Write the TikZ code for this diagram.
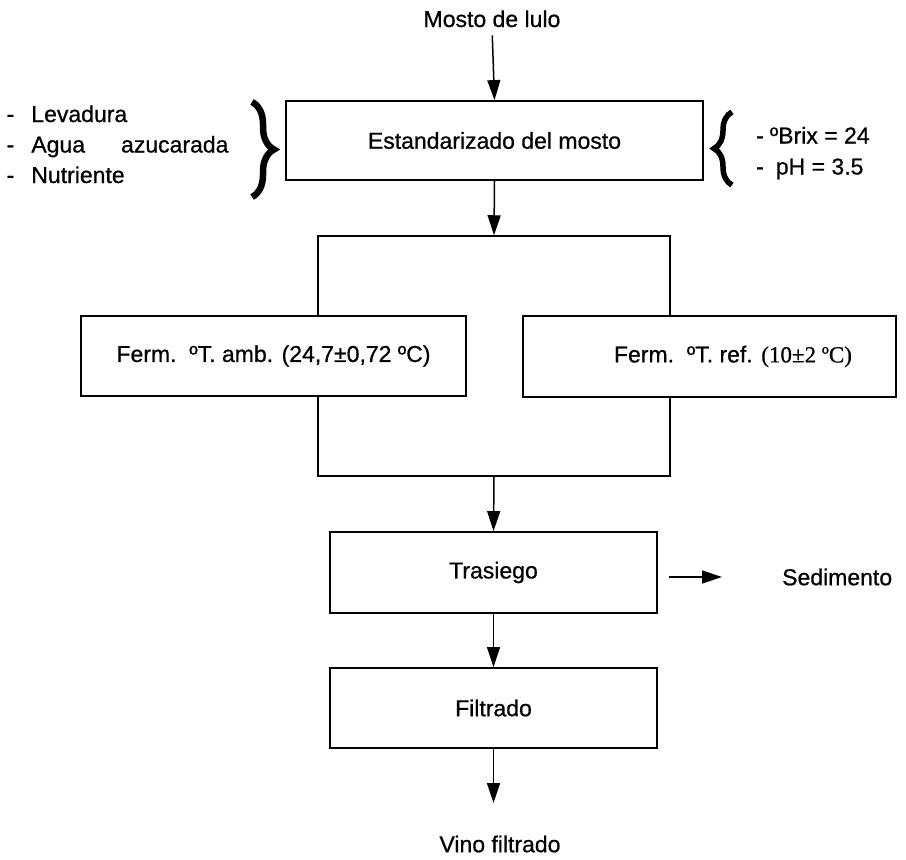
\documentclass[tikz,border=0pt]{standalone}
\usepackage{fontspec}
\setmainfont{Liberation Sans}[FakeBold=0.7]
\newfontfamily\tms{Liberation Serif}[FakeBold=0.7]
\usetikzlibrary{arrows.meta,decorations.pathreplacing}
\begin{document}
\begin{tikzpicture}[x=1pt,y=-1pt,
  txt/.style={font=\fontsize{23}{28}\selectfont, inner sep=0pt},
  box/.style={draw, line width=1.8pt, fill=white, inner sep=0pt, font=\fontsize{23}{28}\selectfont},
  arr/.style={line width=1.5pt, -{Triangle[length=20pt,width=13pt]}},
  bracestyle/.style={decorate, line width=6.5pt}
]
\useasboundingbox (0,0) rectangle (906,860);

% top label
\node[txt, anchor=base] (mosto) at (492,27) {Mosto de lulo};

% standardization box
\node[box, minimum width=417pt, minimum height=79pt] (est) at (494.5,140.5) {Estandarizado del mosto};

% left inputs
\node[txt, anchor=base west] (l1) at (6.5,122) {-\hspace{17pt}Levadura};
\node[txt, anchor=base west] (l2) at (6.5,152.5) {-\hspace{17pt}Agua\hspace{36pt}azucarada};
\node[txt, anchor=base west] (l3) at (6.5,183) {-\hspace{17pt}Nutriente};
\draw[bracestyle, decoration={brace, amplitude=22pt}] (252,102) -- (252,197);

% right parameters
\draw[bracestyle, decoration={brace, amplitude=18pt}, line width=5.5pt] (732,185) -- (732,112);
\node[txt, anchor=base west] (r1) at (756,143.5) {-\hspace{6pt}ºBrix = 24};
\node[txt, anchor=base west] (r2) at (756,174.5) {-\hspace{12pt}pH = 3.5};

% split/merge frame
\node[draw, line width=1.5pt, minimum width=352pt, minimum height=240pt, inner sep=0pt] (frame) at (494,356) {};

% fermentation boxes
\node[box, minimum width=385pt, minimum height=80pt] (fa) at (273.5,356) {Ferm.\ \ ºT. amb. (24,7±0,72 ºC)};
\node[box, minimum width=373pt, minimum height=81pt] (fr) at (709.5,356.5) {\hspace*{47pt}Ferm.\ \ ºT. ref. {\tms (10±2 ºC)}};

% lower boxes
\node[box, minimum width=327pt, minimum height=81pt] (tras) at (493.5,572.5) {Trasiego};
\node[box, minimum width=327pt, minimum height=80pt] (filt) at (493.5,708) {Filtrado};

\node[txt, anchor=west] (sed) at (782,577) {Sedimento};
\coordinate (endv) at (493.5,803);
\node[txt] (vino) at (500,844) {Vino filtrado};

% connectors
\draw[arr, shorten <=8pt] (mosto.south) -- (est.north);
\draw[arr] (est.south) -- (frame.north);
\draw[arr] (frame.south) -- (tras.north);
\draw[arr] (tras.south) -- (filt.north);
\draw[arr] (filt.south) -- (endv);
\draw[arr, shorten <=11pt, shorten >=60pt] (tras.east |- sed.west) -- (sed.west);
\end{tikzpicture}
\end{document}
